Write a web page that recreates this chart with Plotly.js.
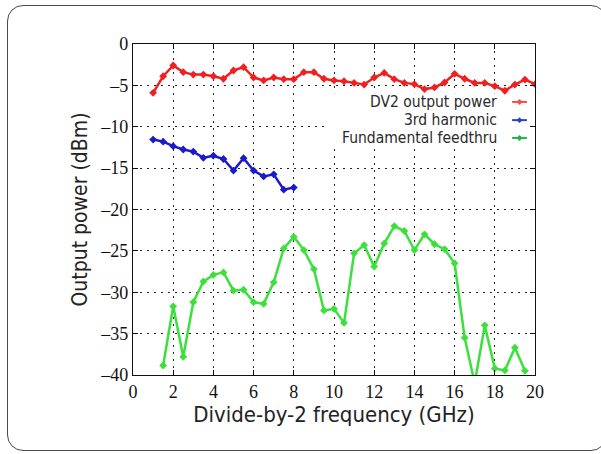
<!DOCTYPE html>
<html>
<head>
<meta charset="utf-8">
<script src="https://cdn.plot.ly/plotly-3.0.1.min.js"></script>
<style>
  html, body { margin: 0; padding: 0; background: #ffffff; }
  #wrap { position: relative; width: 601px; height: 454px; overflow: hidden; }
  #card { position: absolute; left: 7px; top: 5px; width: 600px; height: 446px;
          border: 1.5px solid #4a4a4a; border-radius: 16px; box-sizing: border-box; }
  #chart { position: absolute; left: 0; top: 0; width: 601px; height: 454px; }
</style>
</head>
<body>
<div id="wrap">
  <div id="card"></div>
  <div id="chart"></div>
</div>
<script>
// ---- data ----
const seriesNames = ["DV2 output power", "3rd harmonic", "Fundamental feedthru"];

const dv2Freq = [1, 1.5, 2, 2.5, 3, 3.5, 4, 4.5, 5, 5.5, 6, 6.5, 7, 7.5, 8, 8.5, 9, 9.5, 10, 10.5,
                 11, 11.5, 12, 12.5, 13, 13.5, 14, 14.5, 15, 15.5, 16, 16.5, 17, 17.5, 18, 18.5, 19, 19.5, 20];
const dv2Power = [-5.9, -3.9, -2.6, -3.4, -3.7, -3.7, -3.9, -4.2, -3.2, -2.8, -4.05, -4.4, -4.05, -4.25, -4.25, -3.4, -3.4, -4.2, -4.4, -4.5,
                  -4.7, -4.9, -4.05, -3.5, -4.25, -4.7, -4.85, -5.45, -5.25, -4.65, -3.6, -4.2, -4.7, -4.7, -5.1, -5.65, -4.9, -4.3, -4.85];

const h3Freq = [1, 1.5, 2, 2.5, 3, 3.5, 4, 4.5, 5, 5.5, 6, 6.5, 7, 7.5, 8];
const h3Power = [-11.55, -11.8, -12.35, -12.75, -13.0, -13.75, -13.5, -13.9, -15.3, -13.8, -15.3, -16.0, -15.75, -17.6, -17.35];

const fundFreq = [1.5, 2, 2.5, 3, 3.5, 4, 4.5, 5, 5.5, 6, 6.5, 7, 7.5, 8, 8.5, 9, 9.5, 10, 10.5,
                  11, 11.5, 12, 12.5, 13, 13.5, 14, 14.5, 15, 15.5, 16, 16.5, 17, 17.5, 18, 18.5, 19, 19.5];
const fundPower = [-38.85, -31.7, -37.8, -31.2, -28.7, -27.9, -27.6, -29.8, -29.7, -31.2, -31.4, -28.8, -24.7, -23.3, -24.9, -27.2, -32.2, -32.0, -33.7,
                   -25.3, -24.3, -26.9, -24.1, -22.0, -22.6, -24.9, -23.0, -24.2, -24.8, -26.5, -35.5, -41.0, -34.0, -39.2, -39.45, -36.7, -39.5];

const xTicks = [0, 2, 4, 6, 8, 10, 12, 14, 16, 18, 20];
const yTicks = [0, -5, -10, -15, -20, -25, -30, -35, -40];

// ---- styling ----
const colors = ["#f02020", "#1a1ac8", "#3ce03c"];
const keyColors = ["#ff4a4a", "#2a44c0", "#22b04a"];
const narrow = "DejaVu Sans Condensed, Liberation Sans Narrow, Arial Narrow, sans-serif";
const serif = "Liberation Serif, DejaVu Serif, serif";

function mk(x, y, i) {
  return {
    x: x, y: y, name: seriesNames[i], type: "scatter", mode: "lines+markers",
    line: { color: colors[i], width: 2.5 },
    marker: { symbol: "diamond", size: 6, color: colors[i] },
    cliponaxis: true, showlegend: false
  };
}
const traces = [mk(dv2Freq, dv2Power, 0), mk(h3Freq, h3Power, 1), mk(fundFreq, fundPower, 2)];

// legend: text to the left, short sample line to the right (gnuplot style)
const keyY = [-7.0, -9.2, -11.35];
const annotations = seriesNames.map((n, i) => ({
  text: n, xref: "paper", yref: "y", x: 0.91, y: keyY[i], xanchor: "right", yanchor: "middle",
  showarrow: false, font: { family: narrow, size: 15.5, color: "#2a2a2a" }
}));
const shapes = [{
  type: "rect", xref: "x", yref: "y", x0: 9.65, x1: 19.95, y0: -5.95, y1: -12.5,
  fillcolor: "#ffffff", line: { width: 0 }, layer: "between"
}];
seriesNames.forEach((n, i) => {
  const y = keyY[i];
  shapes.push({ type: "line", xref: "paper", yref: "y", x0: 0.943, x1: 0.98, y0: y, y1: y,
                line: { color: keyColors[i], width: 2 }, layer: "above" });
  const cx = 0.9615, dx = 0.0075, dy = 0.36;
  shapes.push({ type: "path", xref: "paper", yref: "y",
                path: `M ${cx - dx} ${y} L ${cx} ${y + dy} L ${cx + dx} ${y} L ${cx} ${y - dy} Z`,
                fillcolor: keyColors[i], line: { width: 0 }, layer: "above" });
});

const axisCommon = {
  showline: true, linecolor: "#111", linewidth: 1.2, mirror: "ticks",
  ticks: "inside", ticklen: 5, tickcolor: "#111",
  showgrid: true, gridcolor: "#222", gridwidth: 1, griddash: "2px,5px",
  zeroline: false, tickfont: { family: serif, size: 18, color: "#111" }
};

const layout = {
  width: 601, height: 454,
  margin: { l: 133, r: 66, t: 44, b: 79 },
  paper_bgcolor: "rgba(0,0,0,0)", plot_bgcolor: "#ffffff",
  showlegend: false,
  xaxis: Object.assign({}, axisCommon, {
    range: [0, 20], tickvals: xTicks, ticktext: xTicks.map(String),
    title: { text: "Divide-by-2 frequency (GHz)", font: { family: narrow, size: 22, color: "#222" }, standoff: 4 },
    automargin: false
  }),
  yaxis: Object.assign({}, axisCommon, {
    range: [-40, 0], tickvals: yTicks, ticktext: yTicks.map(v => v === 0 ? "0" : "\u2013" + Math.abs(v)),
    title: { text: "Output power (dBm)", font: { family: narrow, size: 21, color: "#222" }, standoff: 6 },
    automargin: false
  }),
  annotations: annotations,
  shapes: shapes
};

Plotly.newPlot("chart", traces, layout, { staticPlot: true, displayModeBar: false });
</script>
</body>
</html>
